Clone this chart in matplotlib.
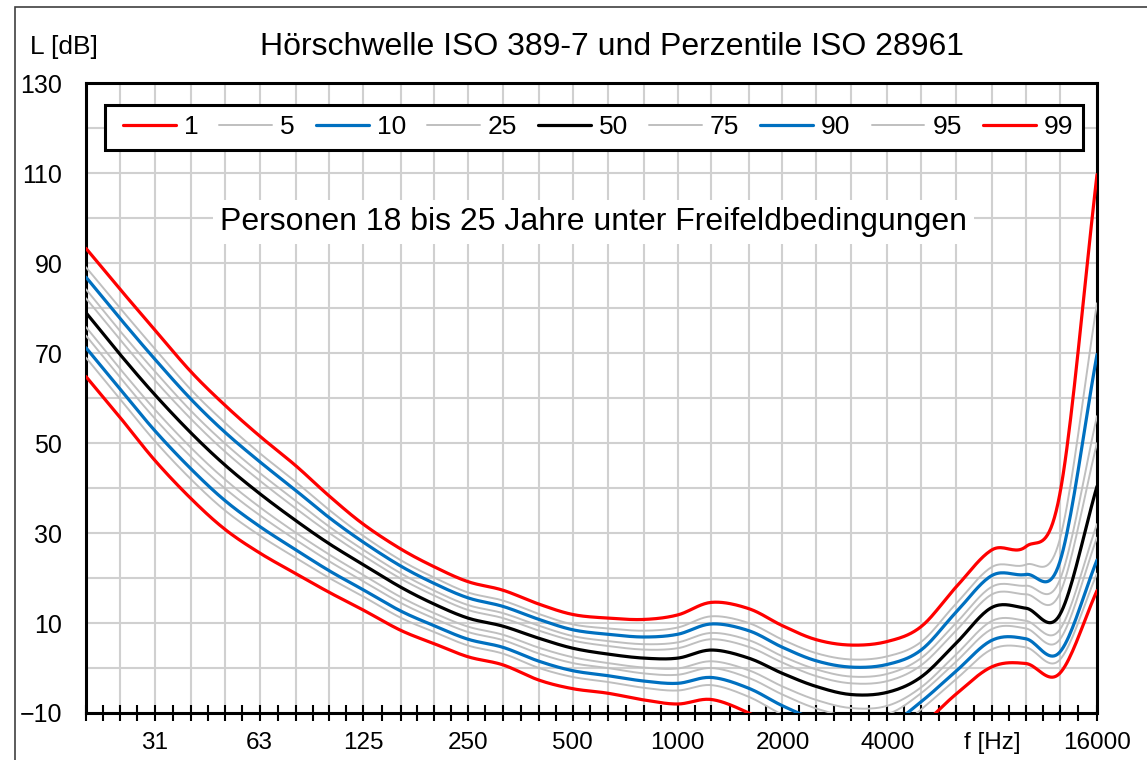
import numpy as np
import matplotlib
matplotlib.use("Agg")
import matplotlib.pyplot as plt
from matplotlib.patches import Rectangle

# third-octave band centre frequencies (Hz)
freqs = [20, 25, 31.5, 40, 50, 63, 80, 100, 125, 160, 200, 250, 315, 400, 500,
         630, 800, 1000, 1250, 1600, 2000, 2500, 3150, 4000, 5000, 6300, 8000,
         10000, 12500, 16000]

# hearing threshold percentiles, dB
p1 = [64.8, 55.8, 46.2, 37.7, 30.9, 25.6, 21.0, 16.8, 12.9, 8.4, 5.4, 2.5, 0.7, -2.7, -4.6,
      -5.6, -7.1, -8.0, -7.0, -10.0, -14.2, -17.6, -19.4, -18.9, -13.0, -5.8, 0.3, 1.0, -1.2, 17.2]
p5 = [69.0, 59.9, 50.5, 42.0, 35.1, 29.5, 24.5, 20.0, 15.9, 11.2, 8.0, 5.0, 3.2, 0.0, -2.0,
      -3.1, -4.4, -5.0, -3.8, -6.4, -10.4, -13.6, -15.4, -14.9, -9.2, -2.5, 4.2, 4.6, 1.8, 21.0]
p10 = [71.2, 62.1, 52.8, 44.3, 37.3, 31.5, 26.3, 21.6, 17.4, 12.7, 9.4, 6.4, 4.6, 1.5, -0.6,
       -1.7, -2.9, -3.4, -2.1, -4.5, -8.4, -11.5, -13.3, -12.8, -7.5, -0.7, 6.2, 6.5, 3.5, 24.0]
p20 = [73.9, 64.7, 55.5, 47.0, 40.0, 34.0, 28.5, 23.7, 19.3, 14.5, 11.0, 8.0, 6.2, 3.2, 1.1,
       0.0, -1.2, -1.5, 0.0, -2.2, -5.9, -9.0, -10.8, -10.3, -5.6, 1.4, 8.7, 8.8, 6.3, 29.0]
p30 = [75.8, 66.6, 57.5, 49.0, 42.0, 35.8, 30.1, 25.2, 20.7, 15.8, 12.2, 9.2, 7.4, 4.5, 2.4,
       1.1, 0.1, -0.1, 1.5, -0.5, -4.1, -7.1, -8.9, -8.4, -4.3, 3.0, 10.5, 10.5, 8.5, 32.0]
p50 = [79.0, 69.8, 60.8, 52.3, 45.2, 38.8, 32.8, 27.6, 23.0, 18.0, 14.2, 11.1, 9.3, 6.6, 4.4,
       3.1, 2.2, 2.2, 4.0, 2.2, -1.2, -4.1, -5.9, -5.4, -2.0, 5.5, 13.5, 13.3, 11.8, 40.4]
p70 = [82.2, 73.1, 64.0, 55.4, 48.2, 41.7, 35.5, 30.0, 25.0, 19.9, 16.1, 12.9, 11.1, 8.3, 6.1,
       4.9, 4.1, 4.4, 6.4, 4.7, 1.2, -1.8, -3.4, -2.9, 0.6, 8.3, 16.4, 16.4, 16.5, 50.0]
p80 = [84.2, 75.0, 66.0, 57.2, 50.0, 43.4, 37.2, 31.4, 26.3, 21.1, 17.2, 14.0, 12.2, 9.4, 7.1,
       6.0, 5.3, 5.7, 7.8, 6.2, 2.6, -0.3, -1.9, -1.3, 2.2, 10.0, 18.1, 18.3, 19.5, 56.0]
p90 = [86.9, 77.8, 68.7, 59.8, 52.5, 45.9, 39.5, 33.4, 28.0, 22.7, 18.8, 15.6, 13.7, 10.8, 8.5,
       7.5, 6.9, 7.5, 9.8, 8.3, 4.6, 1.6, 0.2, 0.8, 4.0, 12.4, 20.6, 20.8, 23.5, 69.7]
p95 = [89.1, 80.1, 71.0, 61.9, 54.6, 47.8, 41.4, 35.1, 29.4, 24.0, 20.1, 16.8, 15.0, 12.0, 9.7,
       8.8, 8.3, 9.0, 11.5, 10.0, 6.3, 3.3, 1.9, 2.6, 5.8, 14.3, 22.5, 23.0, 28.5, 81.1]
p99 = [93.3, 84.3, 75.2, 65.9, 58.5, 51.6, 45.0, 38.2, 32.0, 26.5, 22.5, 19.2, 17.3, 14.2, 11.9,
       11.1, 10.8, 11.8, 14.6, 13.2, 9.4, 6.3, 5.1, 5.9, 9.2, 18.0, 26.3, 27.0, 38.5, 109.7]

xlabels = {31.5: '31', 63: '63', 125: '125', 250: '250', 500: '500', 1000: '1000',
           2000: '2000', 4000: '4000', 8000: 'f [Hz]', 16000: '16000'}

plt.rcParams['font.family'] = ['Liberation Sans', 'DejaVu Sans']

RED = '#FF0000'
BLUE = '#0070C0'
GREY = '#BFBFBF'


def smooth(x, y, n=20):
    # catmull-rom through the points in log-f space (like excel smoothed lines)
    lx = np.log10(np.array(x, dtype=float))
    y = np.array(y, dtype=float)
    P = np.column_stack([lx, y])
    P = np.vstack([2 * P[0] - P[1], P, 2 * P[-1] - P[-2]])
    out = []
    t = np.linspace(0, 1, n, endpoint=False)[:, None]
    for i in range(1, len(P) - 2):
        p0, p1_, p2, p3 = P[i - 1], P[i], P[i + 1], P[i + 2]
        seg = 0.5 * ((2 * p1_) + (-p0 + p2) * t + (2 * p0 - 5 * p1_ + 4 * p2 - p3) * t ** 2
                     + (-p0 + 3 * p1_ - 3 * p2 + p3) * t ** 3)
        out.append(seg)
    out.append(P[-2][None, :])
    out = np.vstack(out)
    return 10 ** out[:, 0], out[:, 1]


fig = plt.figure(figsize=(11.47, 7.6), dpi=100)
ax = fig.add_axes([86 / 1147, 1 - 713 / 760, 1011 / 1147, 629.7 / 760])

series = [(p1, RED, 2.3, '1'), (p5, GREY, 1.4, '5'), (p10, BLUE, 2.3, '10'),
          (p20, GREY, 1.4, '25'), (p30, GREY, 1.4, None), (p50, 'black', 2.3, '50'),
          (p70, GREY, 1.4, None), (p80, GREY, 1.4, '75'), (p90, BLUE, 2.3, '90'),
          (p95, GREY, 1.4, '95'), (p99, RED, 2.3, '99')]
handles = {}
for vals, col, lw, lab in series:
    sx, sy = smooth(freqs, vals)
    line, = ax.plot(sx, sy, color=col, lw=lw, solid_capstyle='round', zorder=3)
    if lab:
        handles[lab] = line

ax.set_xscale('log')
ax.set_xlim(20, 16000)
ax.set_ylim(-10, 130)

# ticks / grid
mids = [np.sqrt(a * b) for a, b in zip(freqs[:-1], freqs[1:])]
ax.set_xticks(freqs)
ax.set_xticklabels([xlabels.get(f, '') for f in freqs], fontsize=17.5)
ax.set_xticks(mids, minor=True)
ax.xaxis.set_minor_formatter(matplotlib.ticker.NullFormatter())
ax.tick_params(axis='x', which='both', direction='inout', length=11, width=1.5,
               color='black', pad=8)
ax.set_yticks(np.arange(-10, 131, 20))
ax.set_yticks(np.arange(0, 130, 20), minor=True)
ax.tick_params(axis='y', which='both', length=0, labelsize=18, pad=17)
ax.grid(True, which='major', axis='both', color='#D0D0D0', lw=1.5, zorder=0)
ax.grid(True, which='minor', axis='y', color='#D0D0D0', lw=1.5, zorder=0)
ax.set_axisbelow(True)
for sp in ax.spines.values():
    sp.set_linewidth(2.2)
    sp.set_color('black')

# legend box (frame drawn separately so the entries can sit with their own margins)
box_x0, box_x1 = (105 - 86) / 1011, (1083 - 86) / 1011
box_y0, box_y1 = (713 - 150) / 629.7, (713 - 105) / 629.7
ax.add_patch(Rectangle((box_x0, box_y0), box_x1 - box_x0, box_y1 - box_y0,
                       transform=ax.transAxes, facecolor='white', edgecolor='black',
                       lw=2.2, zorder=5))
order = ['1', '5', '10', '25', '50', '75', '90', '95', '99']
leg = ax.legend([handles[k] for k in order], order, ncol=9, loc='center',
                bbox_to_anchor=((598 - 86) / 1011, (box_y0 + box_y1) / 2),
                fontsize=19, frameon=False, handlelength=2.0, handletextpad=0.3,
                columnspacing=0.8, borderpad=0.1, borderaxespad=0)
leg.set_zorder(6)

ax.text(0.502, (713 - 222) / 629.7, 'Personen 18 bis 25 Jahre unter Freifeldbedingungen',
        transform=ax.transAxes, ha='center', va='center', fontsize=23,
        bbox=dict(facecolor='white', edgecolor='none', pad=5), zorder=4)

fig.text(612 / 1147, 1 - 47 / 760, 'Hörschwelle ISO 389-7 und Perzentile ISO 28961',
         ha='center', va='center', fontsize=23)
fig.text(64 / 1147, 1 - 47 / 760, 'L [dB]', ha='center', va='center', fontsize=19)

# outer frame
fig.add_artist(Rectangle((15 / 1147, -0.1), 1.2, 1 - 7 / 760 + 0.1, transform=fig.transFigure,
                         fill=False, edgecolor='#404040', lw=1.2))

fig.savefig('out.png', dpi=100)
